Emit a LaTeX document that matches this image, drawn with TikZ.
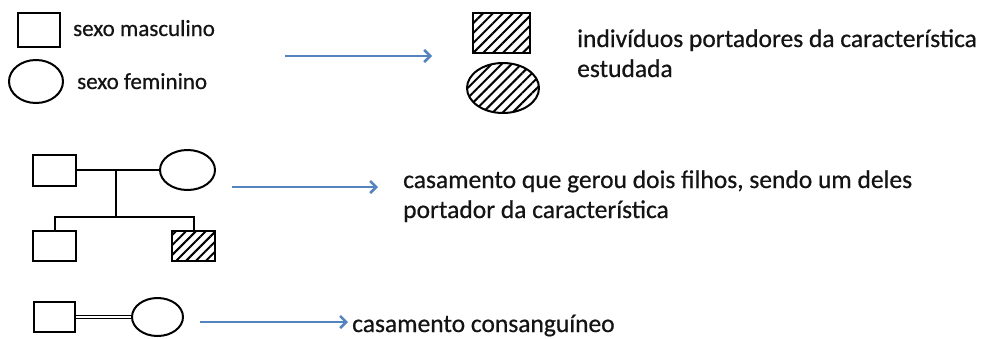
\documentclass[tikz,border=0pt]{standalone}
\usepackage{fontspec}
\setmainfont{Carlito}[UprightFeatures={FakeBold=0.6}]
\usetikzlibrary{arrows.meta,patterns.meta,shapes.geometric}
\definecolor{arrowblue}{RGB}{84,131,190}
\definecolor{txt}{RGB}{20,20,20}
\begin{document}
\begin{tikzpicture}[x=1pt,y=-1pt,
  shapeline/.style={draw=black,line width=2pt,inner sep=0pt},
  sq/.style={shapeline,rectangle},
  el/.style={shapeline,ellipse},
  hatch/.style={pattern={Lines[angle=45,distance=7pt,line width=2pt]}},
  bluearrow/.style={draw=arrowblue,line width=2.6pt,-{Straight Barb[length=6pt,width=12pt,line width=2.6pt]}},
  lbl/.style={text=txt,inner sep=0pt,anchor=base west,font=\fontsize{23}{26}\selectfont},
  biglbl/.style={text=txt,inner sep=0pt,anchor=base west,font=\fontsize{25.5}{30}\selectfont},
  pline/.style={draw=black,line width=2pt}]
\useasboundingbox (0,0) rectangle (982,338);
\fill[white] (0,0) rectangle (982,338);
% legend
\node[sq,minimum width=42pt,minimum height=34pt] (m1) at (39,29.5) {};
\node[el,minimum width=54pt,minimum height=43pt] (f1) at (36,81.5) {};
\node[lbl] (t1) at (73,36) {sexo masculino};
\node[lbl] (t2) at (77,89) {sexo feminino};
\coordinate (a1s) at (285,56);
\coordinate (a1e) at (432,56);
\draw[bluearrow] (a1s) -- (a1e);
\node[sq,hatch,minimum width=57pt,minimum height=40pt] (h1) at (501.5,33) {};
\node[el,hatch,minimum width=72pt,minimum height=50pt] (h2) at (503,88) {};
\node[biglbl] (t3a) at (577,47) {indivíduos portadores da característica};
\node[biglbl] (t3b) at (577,77) {estudada};
% pedigree
\node[sq,minimum width=43pt,minimum height=31pt] (p1) at (54.5,170) {};
\node[el,minimum width=55pt,minimum height=40pt] (p2) at (187.5,170) {};
\draw[pline] (p1.east) -- (p2.west);
\coordinate (mid) at (116,170);
\coordinate (sib) at (116,217);
\draw[pline] (mid) -- (sib);
\node[sq,minimum width=43pt,minimum height=30pt] (c1) at (54.5,246) {};
\node[sq,hatch,minimum width=43pt,minimum height=30pt] (c2) at (193.5,246) {};
\draw[pline] (c1.north) -- (c1.north |- sib) -- (c2.north |- sib) -- (c2.north);
\coordinate (a2s) at (232,187);
\coordinate (a2e) at (378,187);
\draw[bluearrow] (a2s) -- (a2e);
\node[biglbl] (t4a) at (403,188) {casamento que gerou dois filhos, sendo um deles};
\node[biglbl] (t4b) at (403,218) {portador da característica};
% consanguineous
\node[sq,minimum width=41pt,minimum height=30pt] (q1) at (54.5,317) {};
\node[el,minimum width=51pt,minimum height=38pt] (q2) at (157.5,317) {};
\draw[draw=black,line width=1.3pt,double=white,double distance=2.2pt] (q1.east) -- (q2.west);
\coordinate (a3s) at (200,322);
\coordinate (a3e) at (348,322);
\draw[bluearrow] (a3s) -- (a3e);
\node[biglbl] (t5) at (352,332) {casamento consanguíneo};
\end{tikzpicture}
\end{document}
